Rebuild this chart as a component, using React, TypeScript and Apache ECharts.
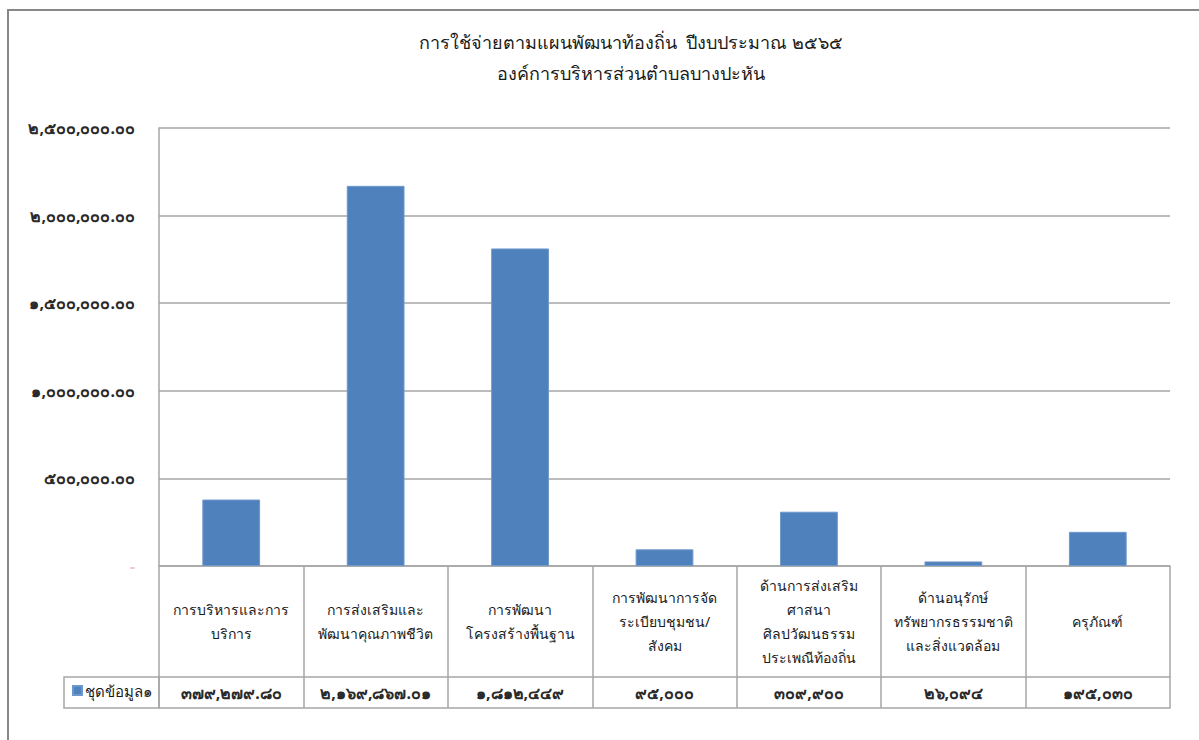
import React, { useEffect, useRef } from "react";
import * as echarts from "echarts";

const titleLines = [
  "การใช้จ่ายตามแผนพัฒนาท้องถิ่น  ปีงบประมาณ ๒๕๖๕",
  "องค์การบริหารส่วนตำบลบางปะหัน",
];
const seriesName = "ชุดข้อมูล๑";
const categories = [
  "การบริหารและการ\nบริการ",
  "การส่งเสริมและ\nพัฒนาคุณภาพชีวิต",
  "การพัฒนา\nโครงสร้างพื้นฐาน",
  "การพัฒนาการจัด\nระเบียบชุมชน/\nสังคม",
  "ด้านการส่งเสริม\nศาสนา\nศิลปวัฒนธรรม\nประเพณีท้องถิ่น",
  "ด้านอนุรักษ์\nทรัพยากรธรรมชาติ\nและสิ่งแวดล้อม",
  "ครุภัณฑ์",
];
const values = [379279.8, 2169867.01, 1812449, 95000, 309900, 26094, 195030];
const tableLabels = [
  "๓๗๙,๒๗๙.๘๐",
  "๒,๑๖๙,๘๖๗.๐๑",
  "๑,๘๑๒,๔๔๙",
  "๙๕,๐๐๐",
  "๓๐๙,๙๐๐",
  "๒๖,๐๙๔",
  "๑๙๕,๐๓๐",
];
const yMin = 0;
const yMax = 2500000;
const yInterval = 500000;

const FONT = 'Tahoma, "Noto Sans", "DejaVu Sans", sans-serif';

function toThaiDigits(s: string): string {
  return s.replace(/[0-9]/g, (d) => String.fromCharCode(0x0e50 + Number(d)));
}

function yLabel(v: number): string {
  if (v === 0) return "-";
  const s = v.toLocaleString("en-US", { minimumFractionDigits: 2, maximumFractionDigits: 2 });
  return toThaiDigits(s);
}

const GRID_LEFT = 159;
const GRID_RIGHT = 1170;
const GRID_TOP = 128;
const AXIS_Y = 566;
const HEAD_H = 111;
const ROW_H = 31;
const LINE = "#a6a6a6";

export default function App() {
  const ref = useRef<HTMLDivElement>(null);
  useEffect(() => {
    if (!ref.current) return;
    const chart = echarts.init(ref.current, undefined, { renderer: "svg" });
    chart.setOption({
      animation: false,
      backgroundColor: "#ffffff",
      textStyle: { fontFamily: FONT },
      title: {
        text: titleLines.join("\n"),
        left: 626,
        top: 21,
        textAlign: "center",
        textStyle: {
          fontFamily: FONT,
          fontSize: 18,
          fontWeight: "normal",
          color: "#1a1a1a",
          lineHeight: 31,
        },
      },
      legend: {
        data: [seriesName],
        left: 72,
        top: 683,
        itemWidth: 9,
        itemHeight: 9,
        itemGap: 2,
        padding: 0,
        icon: "rect",
        textStyle: { fontFamily: FONT, fontSize: 15, color: "#1a1a1a", padding: [0, 0, 0, -2] },
      },
      grid: {
        left: GRID_LEFT,
        right: 1199 - GRID_RIGHT,
        top: GRID_TOP,
        bottom: 740 - AXIS_Y,
        containLabel: false,
      },
      xAxis: [
        {
          type: "category",
          data: categories,
          position: "bottom",
          axisLine: { show: true, lineStyle: { color: LINE, width: 1.5 } },
          axisTick: {
            show: true,
            alignWithLabel: false,
            length: HEAD_H,
            lineStyle: { color: LINE, width: 1.5 },
          },
          axisLabel: {
            show: true,
            interval: 0,
            margin: HEAD_H / 2,
            verticalAlign: "middle",
            fontFamily: FONT,
            fontSize: 14,
            lineHeight: 24,
            color: "#1a1a1a",
          },
        },
        {
          type: "category",
          data: tableLabels,
          position: "bottom",
          offset: HEAD_H,
          axisLine: { show: true, lineStyle: { color: LINE, width: 1.5 } },
          axisTick: {
            show: true,
            alignWithLabel: false,
            length: ROW_H,
            lineStyle: { color: LINE, width: 1.5 },
          },
          axisLabel: {
            show: true,
            interval: 0,
            margin: ROW_H / 2,
            verticalAlign: "middle",
            fontFamily: FONT,
            fontSize: 16,
            fontWeight: "bold",
            color: "#2a2a2a",
          },
        },
        {
          type: "category",
          data: tableLabels,
          position: "bottom",
          offset: HEAD_H + ROW_H,
          axisLine: { show: true, lineStyle: { color: LINE, width: 1.5 } },
          axisTick: { show: false },
          axisLabel: { show: false },
        },
      ],
      yAxis: {
        type: "value",
        min: yMin,
        max: yMax,
        interval: yInterval,
        axisLine: { show: true, lineStyle: { color: LINE, width: 1.5 } },
        axisTick: { show: false },
        splitLine: { show: true, lineStyle: { color: LINE, width: 1.5 } },
        axisLabel: {
          margin: 24,
          fontFamily: FONT,
          fontSize: 16,
          fontWeight: "bold",
          color: (v: any) => (Number(v) === 0 ? "#f0c8d0" : "#2a2a2a"),
          formatter: (v: number) => yLabel(v),
        },
      },
      series: [
        {
          name: seriesName,
          type: "bar",
          xAxisIndex: 0,
          data: values,
          barWidth: "40%",
          itemStyle: { color: "#4f81bd", borderColor: "#6e98cc", borderWidth: 1 },
        },
      ],
      graphic: [
        {
          type: "rect",
          shape: { x: 8, y: 10, width: 1400, height: 900 },
          style: { fill: "none", stroke: "#888888", lineWidth: 2 },
          silent: true,
        },
        {
          type: "rect",
          shape: { x: 64, y: AXIS_Y + HEAD_H, width: GRID_LEFT - 64, height: ROW_H },
          style: { fill: "none", stroke: LINE, lineWidth: 1.5 },
          silent: true,
        },
      ],
    });
    return () => chart.dispose();
  }, []);
  return (
    <div
      ref={ref}
      style={{ position: "absolute", left: 0, top: 0, width: 1199, height: 740 }}
    />
  );
}
